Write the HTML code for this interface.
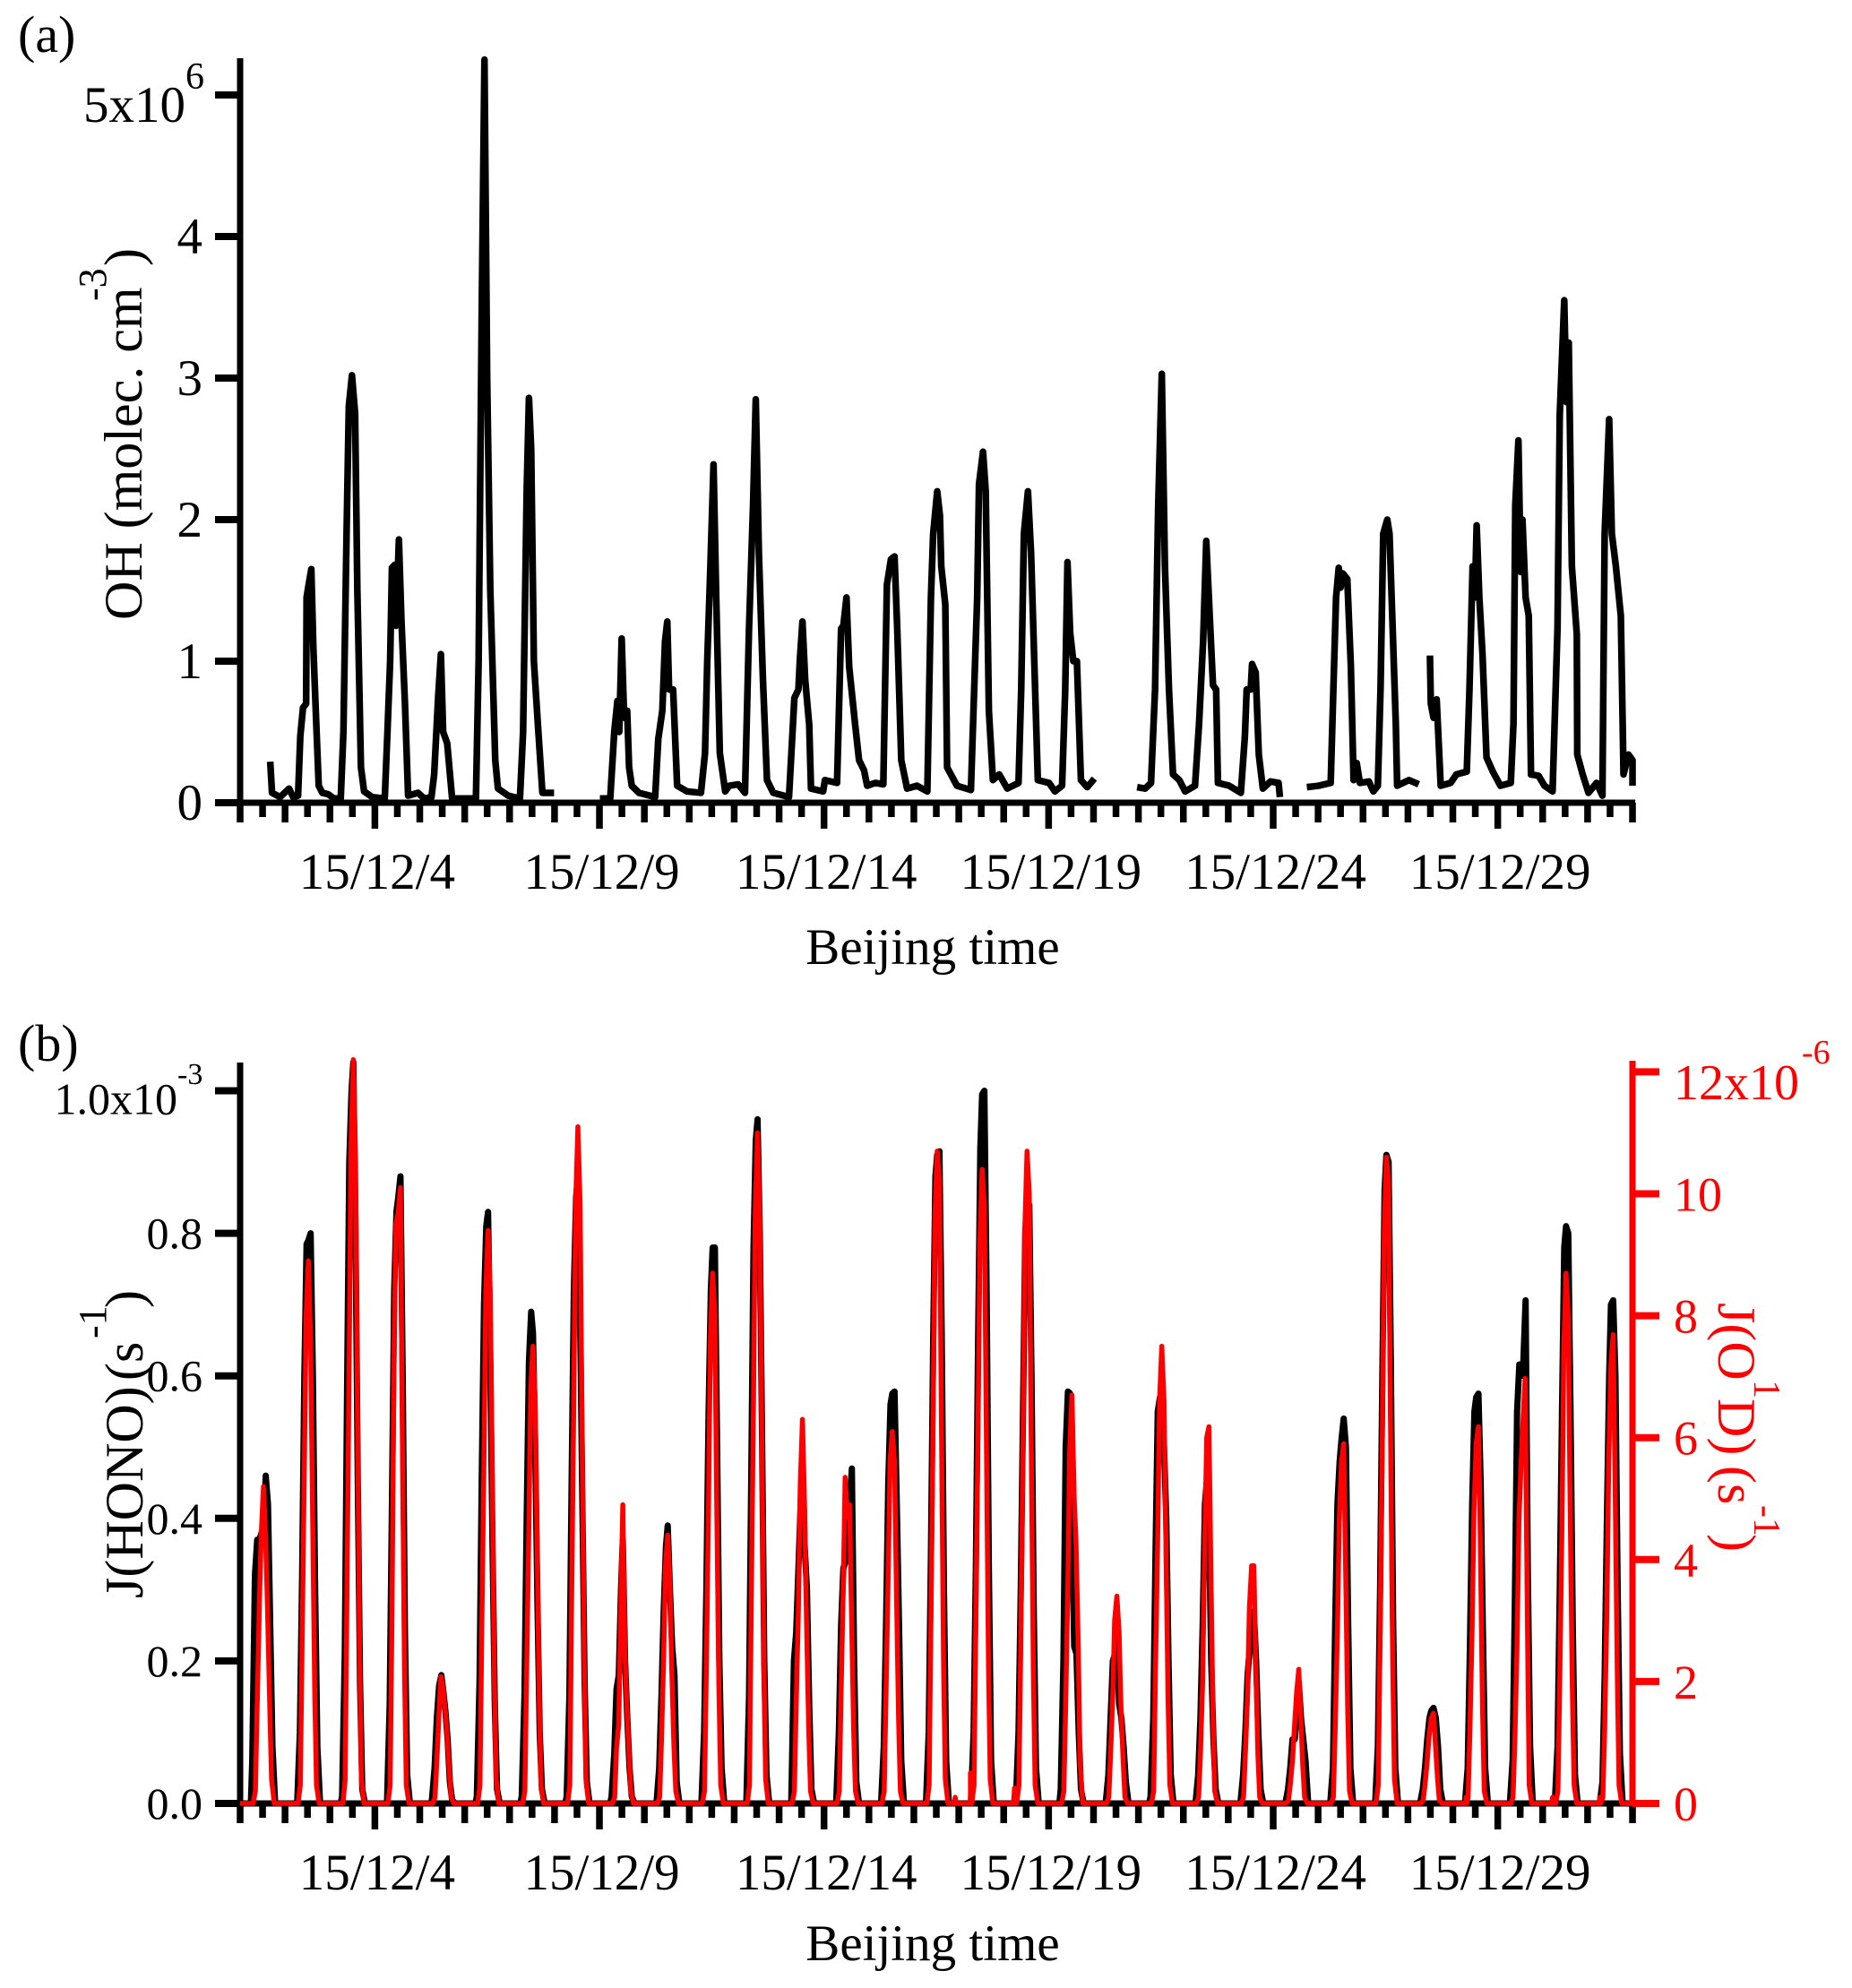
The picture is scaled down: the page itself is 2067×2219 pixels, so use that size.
<!DOCTYPE html>
<html lang="en">
<head>
<meta charset="utf-8">
<title>OH, J(HONO) and J(O1D) time series, December 2015</title>
<style>
html,body{margin:0;padding:0;background:#fff;}
svg{display:block;}
text{font-family:"Liberation Serif",serif;fill:#000;}
.red{fill:#f00;}
</style>
</head>
<body>
<svg id="chart" xmlns="http://www.w3.org/2000/svg" width="2067" height="2219" viewBox="0 0 2067 2219">
  <rect x="0" y="0" width="2067" height="2219" fill="#fff"/>
  <text x="20" y="58" font-size="58">(a)</text>
  <text x="20" y="1184" font-size="58">(b)</text>

  <text x="1041" y="1076" font-size="57" text-anchor="middle">Beijing time</text>
  <text x="1041" y="2188" font-size="57" text-anchor="middle">Beijing time</text>

  <g>
    <text transform="translate(158,692) rotate(-90)" font-size="60">OH (molec. cm</text>
    <text transform="translate(118,336) rotate(-90)" font-size="44">-3</text>
    <text transform="translate(158,297) rotate(-90)" font-size="60">)</text>
  </g>
  <g>
    <text transform="translate(159,1784) rotate(-90)" font-size="60">J(HONO)</text>
    <text transform="translate(159,1541) rotate(-90)" font-size="60">(s</text>
    <text transform="translate(118,1494) rotate(-90)" font-size="44">-1</text>
    <text transform="translate(159,1460) rotate(-90)" font-size="60">)</text>
  </g>
  <g>
    <text class="red" transform="translate(1918,1454) rotate(90)" font-size="60">J(O</text>
    <text class="red" transform="translate(1958,1540) rotate(90)" font-size="42">1</text>
    <text class="red" transform="translate(1918,1561) rotate(90)" font-size="60">D)</text>
    <text class="red" transform="translate(1918,1636) rotate(90)" font-size="60">(s</text>
    <text class="red" transform="translate(1958,1680) rotate(90)" font-size="42">-1</text>
    <text class="red" transform="translate(1918,1712) rotate(90)" font-size="60">)</text>
  </g>

  <text x="207" y="99" font-size="42">6</text>
  <text x="198" y="1210" font-size="34">-3</text>
  <text class="red" x="2011" y="1187" font-size="38">-6</text>
</svg>
<script>
// ---- axis tick data ----
const ohTicks = [0, 1, 2, 3, 4, 5];
const ohTickLabels = ['0', '1', '2', '3', '4', '5x10'];
const jHonoTicks = [0, 0.2, 0.4, 0.6, 0.8, 1.0];
const jHonoTickLabels = ['0.0', '0.2', '0.4', '0.6', '0.8', '1.0x10'];
const jO1dTicks = [0, 2, 4, 6, 8, 10, 12];
const jO1dTickLabels = ['0', '2', '4', '6', '8', '10', '12x10'];
const dateTickDays = [4, 9, 14, 19, 24, 29];
const dateTickLabels = ['15/12/4', '15/12/9', '15/12/14', '15/12/19', '15/12/24', '15/12/29'];

// ---- panel (a): OH, [day of December, value in 1e6 molec cm-3] ----
const ohSegment1 = [[1.67,.29],[1.71,.07],[1.89,.04],[2.09,.10],[2.18,.04],[2.29,.05],[2.34,.47],[2.40,.67],[2.47,.70],[2.48,1.45],[2.53,1.55],[2.585,1.65],[2.63,1.1],[2.69,.6],[2.75,.12],[2.83,.07],[2.96,.06],[3.09,.03],[3.24,.03],[3.30,.5],[3.37,1.9],[3.42,2.8],[3.49,3.02],[3.56,2.75],[3.61,1.5],[3.69,.25],[3.76,.08],[3.94,.04],[4.22,.03],[4.28,.5],[4.34,1.0],[4.38,1.66],[4.44,1.68],[4.47,1.25],[4.535,1.86],[4.59,1.3],[4.67,.7],[4.74,.05],[4.96,.07],[5.10,.03],[5.26,.04],[5.32,.2],[5.41,.75],[5.47,1.05],[5.52,.5],[5.61,.42],[5.72,.03],[5.90,.03],[6.25,.03],[6.31,1.0],[6.38,3.5],[6.44,5.25],[6.50,3.0],[6.57,1.5],[6.68,.3],[6.74,.1],[6.97,.05],[7.23,.03],[7.30,.5],[7.38,2.2],[7.43,2.86],[7.48,2.5],[7.54,1.0],[7.63,.55],[7.73,.07],[7.99,.07]];
const ohSegment2 = [[9.01,.03],[9.24,.03],[9.33,.5],[9.40,.72],[9.44,.5],[9.495,1.16],[9.55,.6],[9.617,.65],[9.66,.25],[9.72,.12],[9.88,.07],[10.24,.04],[10.31,.45],[10.40,.65],[10.46,1.14],[10.51,1.28],[10.55,.8],[10.64,.8],[10.73,.12],[10.95,.08],[11.26,.07],[11.35,.35],[11.40,1.0],[11.47,1.67],[11.54,2.39],[11.60,1.45],[11.68,.35],[11.80,.08],[11.89,.12],[12.09,.13],[12.24,.07],[12.33,1.23],[12.42,2.1],[12.48,2.85],[12.55,1.76],[12.64,.87],[12.73,.16],[12.87,.07],[13.22,.04],[13.34,.74],[13.43,.8],[13.46,1.0],[13.52,1.28],[13.58,.87],[13.67,.55],[13.71,.1],[13.98,.08],[14.02,.16],[14.29,.14],[14.38,1.23],[14.43,1.25],[14.50,1.45],[14.56,.96],[14.69,.56],[14.78,.3],[14.89,.23],[14.96,.12],[15.14,.14],[15.32,.13],[15.40,1.54],[15.49,1.72],[15.57,1.74],[15.63,1.23],[15.72,.3],[15.85,.1],[16.07,.12],[16.30,.08],[16.38,1.45],[16.43,1.9],[16.52,2.2],[16.58,2.03],[16.61,1.67],[16.70,1.4],[16.74,.25],[16.96,.12],[17.27,.09],[17.41,1.45],[17.45,2.25],[17.54,2.48],[17.60,2.2],[17.67,.65],[17.76,.16],[17.90,.2],[18.08,.1],[18.33,.14],[18.39,.8],[18.45,1.9],[18.54,2.2],[18.61,1.76],[18.70,.8],[18.76,.16],[19.01,.14],[19.14,.08],[19.30,.12],[19.37,.8],[19.42,1.7],[19.48,1.2],[19.55,1.0],[19.63,1.0],[19.72,.16],[19.86,.11],[20.02,.17]];
const ohSegment3 = [[20.97,.11],[21.15,.1],[21.28,.14],[21.37,.8],[21.44,2.1],[21.52,3.03],[21.59,1.67],[21.68,.8],[21.77,.2],[21.91,.16],[22.04,.08],[22.26,.12],[22.35,.56],[22.44,1.14],[22.51,1.85],[22.59,1.3],[22.66,.83],[22.73,.8],[22.77,.14],[23.02,.12],[23.28,.07],[23.37,.47],[23.41,.8],[23.50,.8],[23.53,.98],[23.61,.92],[23.68,.34],[23.77,.1],[23.94,.15],[24.12,.14],[24.15,.04]];
const ohSegment4 = [[24.75,.11],[25.01,.12],[25.28,.14],[25.34,.8],[25.40,1.45],[25.46,1.66],[25.50,1.52],[25.55,1.62],[25.65,1.58],[25.73,.96],[25.79,.16],[25.86,.28],[25.93,.14],[26.13,.15],[26.23,.08],[26.33,.12],[26.39,.8],[26.45,1.9],[26.54,2.0],[26.59,1.9],[26.66,1.23],[26.73,.56],[26.76,.12],[27.02,.16],[27.24,.13]];
const ohSegment5 = [[27.49,1.04],[27.51,.7],[27.57,.6],[27.64,.73],[27.73,.12],[27.95,.14],[28.08,.2],[28.31,.22],[28.37,.8],[28.44,1.67],[28.49,1.45],[28.53,1.96],[28.59,1.45],[28.66,1.05],[28.75,.32],[28.89,.22],[29.06,.12],[29.29,.14],[29.35,.56],[29.39,2.1],[29.46,2.56],[29.51,1.63],[29.55,2.0],[29.62,1.45],[29.69,1.32],[29.74,.2],[29.91,.19],[30.04,.12],[30.22,.08],[30.33,1.23],[30.38,2.74],[30.48,3.55],[30.53,2.83],[30.58,3.25],[30.65,1.67],[30.76,1.19],[30.77,.34],[30.89,.2],[31.02,.07],[31.20,.14],[31.33,.05],[31.38,1.9],[31.48,2.71],[31.54,1.9],[31.63,1.67],[31.74,1.32],[31.80,.2],[31.91,.34],[32.0,.3],[32.0,.12]];

// ---- panel (b): daytime samples; one row per day, columns are the fractions of that day ----
const jHonoFractions = [.27,.33,.38,.43,.48,.52,.57,.62,.67,.72,.78];
const jO1dFractions = [.29,.34,.38,.43,.47,.52,.57,.61,.66,.70,.76];
const jHonoByDay = [
 [.06,.32,.37,.37,.38,.39,.46,.42,.25,.08,0],
 [0,.1,.32,.6,.785,.79,.80,.6,.3,.08,0],
 [.01,.21,.57,.9,1.0,1.04,.8,.45,.17,.02,0],
 [0,.14,.42,.72,.83,.85,.88,.6,.24,.04,0],
 [.005,.05,.12,.165,.18,.16,.13,.09,.03,.005,0],
 [.01,.17,.46,.7,.81,.83,.62,.36,.14,.02,0],
 [.01,.15,.4,.62,.69,.66,.5,.28,.1,.02,0],
 [.01,.15,.45,.72,.85,.88,.68,.42,.17,.03,0],
 [.01,.07,.16,.18,.3,.37,.2,.12,.05,.01,0],
 [0,.05,.15,.27,.36,.39,.3,.22,.18,.03,0],
 [0,.1,.3,.55,.72,.78,.78,.5,.2,.05,0],
 [0,.15,.46,.78,.93,.96,.8,.52,.2,.04,0],
 [0,.2,.24,.33,.42,.48,.36,.3,.14,.02,0],
 [0,.1,.25,.33,.34,.36,.42,.47,.2,.03,0],
 [0,.08,.25,.45,.56,.575,.578,.42,.25,.06,0],
 [0,.1,.35,.65,.88,.91,.915,.66,.3,.06,0],
 [0,.1,.33,.65,.92,.995,1.0,.72,.33,.06,0],
 [0,.1,.3,.55,.8,.84,.84,.6,.27,.05,0],
 [.02,.2,.5,.578,.575,.4,.22,.21,.1,.02,0],
 [0,.04,.12,.2,.21,.24,.14,.12,.08,.03,0],
 [.01,.12,.35,.55,.57,.56,.5,.4,.2,.04,0],
 [0,.04,.12,.25,.42,.45,.4,.2,.09,.02,0],
 [0,.04,.1,.18,.22,.24,.27,.2,.1,.02,0],
 [0,.02,.05,.09,.09,.12,.17,.12,.09,.06,0],
 [0,.05,.25,.42,.48,.51,.54,.5,.25,.05,0],
 [0,.08,.3,.6,.86,.91,.9,.62,.26,.05,0],
 [0,.02,.05,.09,.12,.13,.134,.12,.08,.02,0],
 [0,.05,.22,.42,.55,.57,.575,.45,.24,.05,0],
 [0,.06,.28,.55,.616,.6,.62,.706,.32,.08,0],
 [0,.08,.3,.55,.78,.81,.8,.55,.25,.04,0],
 [0,.03,.18,.4,.6,.7,.706,.6,.3,.07,0]
];
const jO1dByDay = [
 [0,.2,1.6,3.3,4.4,5.2,4.3,3.2,1.6,.4,0],
 [0,.3,2.6,5.5,8,8.9,7.6,5,1.9,.3,0],
 [0,.4,3.6,7.4,10.8,12.2,10.6,6.8,2.5,.4,0],
 [0,.3,3,7.6,9.5,9.7,10.1,6.2,2.2,.3,0],
 [0,.1,.7,1.5,2.08,1.9,1.5,1.1,.5,.1,0],
 [0,.3,2.8,5.7,8.4,9.4,8.4,5.5,2.1,.4,0],
 [0,.2,2.2,4.6,6.8,7.5,6.6,4.4,1.7,.3,0],
 [0,.3,3.3,6.7,9.8,11.1,9.8,6.4,2.4,.4,0],
 [0,.1,.9,1.3,3,4.9,2.4,1.6,.8,.2,0],
 [0,.1,1,2.4,3.9,4.4,3.6,2.2,.9,.2,0],
 [0,.2,2.2,5,7.6,8.7,8,5,1.9,.3,0],
 [0,.3,3.3,6.6,9.7,11,9.6,6.4,2.4,.4,0],
 [0,.2,1.6,3.2,5.2,6.3,4.8,3,1.2,.2,0],
 [0,.2,1.8,3.6,5.35,4.7,4.9,3.2,1.2,.2,0],
 [0,.2,1.8,3.8,5.6,6.1,5.6,3.6,1.4,.2,0],
 [0,.3,3,6.4,9.6,10.7,10.2,6.6,2.4,.4,0],
 [0,.3,3,6.2,9.2,10.4,9.8,6.4,2.4,.4,0],
 [0,.3,2.6,5.8,9.4,10.7,10,6.2,2.2,.3,0],
 [0,.2,1.6,3.6,5.8,6.7,5,4.3,2.6,.7,0],
 [0,.1,.8,1.8,3,3.4,2.8,1.6,.7,.1,0],
 [0,.2,2.2,4.4,6.6,7.5,6.6,4.4,1.7,.3,0],
 [0,.1,.8,2,4,6,6.18,4,1.4,.2,0],
 [0,.1,.8,1.8,3.2,3.9,3.9,2.4,.8,.1,0],
 [0,.05,.3,.7,1.2,1.8,2.2,1.5,.6,.1,0],
 [0,.1,1.2,2.8,4.6,5.6,5.9,4,1.5,.2,0],
 [0,.3,2.8,6,9.3,10.6,10.2,6.4,2.4,.4,0],
 [0,.05,.3,.7,1.1,1.4,1.48,1,.4,.05,0],
 [0,.1,1.2,2.9,4.8,5.9,6.18,4.4,1.6,.2,0],
 [0,.1,1,2.6,4.6,5.6,6.4,6.97,3,.3,0],
 [0,.2,2,4.6,7.4,8.7,8,5,1.9,.3,0],
 [0,.1,1.2,3.2,5.6,7.2,7.69,5.4,2.2,.3,0]
];
const jO1dBlipDays = [16.92, 17.26, 18.24, 28.29, 30.22, 31.27];
const jO1dBlipValues = [.1, .5, .25, .1, .1, .1];

// ---- scales ----
const xAxisLeft = 268, xPerDay = 50.13, firstDay = 1, lastDay = 32;
const xScale = t => xAxisLeft + (t - firstDay) * xPerDay;
const yOH = v => 896 - v * 158;
const yHono = v => 2013 - v * 795.5;
const yO1d = v => 2013 - v * 68.05;

const svg = document.getElementById('chart');
const NS = 'http://www.w3.org/2000/svg';

function make(tag, attrs) {
  const el = document.createElementNS(NS, tag);
  for (const k in attrs) el.setAttribute(k, attrs[k]);
  return el;
}

function pathFrom(points, yFn) {
  return points.map((p, i) => (i ? 'L' : 'M') + xScale(p[0]).toFixed(2) + ' ' + yFn(p[1]).toFixed(2)).join('');
}

function drawSpineAndDateTicks(prefix, baseY, topY) {
  const yAxis = make('line', {x1: xAxisLeft, x2: xAxisLeft, y1: topY, y2: baseY + 22, stroke: '#000', 'stroke-width': 7});
  
  
  svg.appendChild(yAxis);
  const xAxis = make('line', {x1: xAxisLeft, x2: xScale(lastDay) + 3, y1: baseY, y2: baseY, stroke: '#000', 'stroke-width': 7});
  
  
  svg.appendChild(xAxis);
  for (let t = firstDay; t <= lastDay; t += 0.5) {
    const whole = Number.isInteger(t);
    const major = dateTickDays.includes(t);
    const len = major ? 29 : (whole ? 22 : 16);
    const tick = make('line', {x1: xScale(t), x2: xScale(t), y1: baseY, y2: baseY + len, stroke: '#000', 'stroke-width': 7.5});
    
    
    svg.appendChild(tick);
  }
  dateTickDays.forEach((d, i) => {
    const label = make('text', {x: xScale(d) + 2.5, y: baseY + 96, 'font-size': 57, 'text-anchor': 'middle'});
    label.textContent = dateTickLabels[i];
    
    
    svg.appendChild(label);
  });
}

function drawLeftTicks(prefix, ticks, labels, yFn, fontSize, labelDrop, lastDrop, lastAnchor) {
  ticks.forEach((v, i) => {
    const y = yFn(v);
    const tick = make('line', {x1: 240, x2: xAxisLeft, y1: y, y2: y, stroke: '#000', 'stroke-width': 8});
    
    
    svg.appendChild(tick);
    const isLast = i === ticks.length - 1;
    const label = make('text', {x: isLast ? lastAnchor : 226, y: y + (isLast ? lastDrop : labelDrop), 'font-size': fontSize, 'text-anchor': 'end'});
    label.textContent = labels[i];
    
    
    svg.appendChild(label);
  });
}

function drawLine(name, points, yFn, color, width) {
  const line = make('path', {d: pathFrom(points, yFn), fill: 'none', stroke: color, 'stroke-width': width, 'stroke-linejoin': 'round', 'stroke-linecap': 'butt'});
  
  
  svg.appendChild(line);
}

function dailySeries(rows, fractions) {
  const pts = [[firstDay, 0]];
  rows.forEach((row, d) => {
    const day = firstDay + d;
    pts.push([day + fractions[0] - 0.03, 0]);
    row.forEach((v, j) => pts.push([day + fractions[j], v]));
  });
  pts.push([lastDay, 0]);
  return pts;
}

// panel (a)
drawSpineAndDateTicks('panel-a', 896, 65);
drawLeftTicks('oh', ohTicks, ohTickLabels, yOH, 57, 19, 30, 207);
drawLine('oh-series-segment-1', ohSegment1, yOH, '#000', 7.5);
drawLine('oh-series-segment-2', ohSegment2, yOH, '#000', 7.5);
drawLine('oh-series-segment-3', ohSegment3, yOH, '#000', 7.5);
drawLine('oh-series-segment-4', ohSegment4, yOH, '#000', 7.5);
drawLine('oh-series-segment-5', ohSegment5, yOH, '#000', 7.5);

// panel (b)
drawSpineAndDateTicks('panel-b', 2013, 1186);
drawLeftTicks('j-hono', jHonoTicks, jHonoTickLabels, yHono, 50, 17, 26, 198);
drawLine('j-hono-series', dailySeries(jHonoByDay, jHonoFractions), yHono, '#000', 7);
const o1dPoints = dailySeries(jO1dByDay, jO1dFractions);
jO1dBlipDays.forEach((t, i) => {
  o1dPoints.push([t - 0.02, 0]);
  o1dPoints.push([t, jO1dBlipValues[i]]);
  o1dPoints.push([t + 0.02, 0]);
});
o1dPoints.sort((a, b) => a[0] - b[0]);
drawLine('j-o1d-series', o1dPoints, yO1d, '#f00', 5.5);

// right axis
const rightX = xScale(lastDay);
const rightAxis = make('line', {x1: rightX, x2: rightX, y1: 1184, y2: 2016, stroke: '#f00', 'stroke-width': 7});


svg.appendChild(rightAxis);
jO1dTicks.forEach((v, i) => {
  const y = yO1d(v);
  const tick = make('line', {x1: rightX, x2: 1852, y1: y, y2: y, stroke: '#f00', 'stroke-width': 8});
  
  
  svg.appendChild(tick);
  const isLast = i === jO1dTicks.length - 1;
  const label = make('text', {x: 1868, y: y + (isLast ? 30.5 : 19), 'font-size': isLast ? 56 : 54, class: 'red'});
  label.textContent = jO1dTickLabels[i];
  
  
  svg.appendChild(label);
});
</script>
</body>
</html>
